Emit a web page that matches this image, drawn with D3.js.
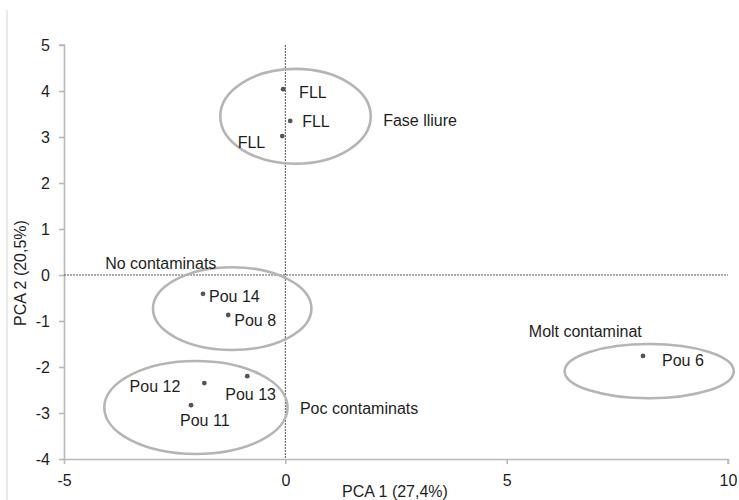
<!DOCTYPE html>
<html>
<head>
<meta charset="utf-8">
<script src="https://cdn.jsdelivr.net/npm/d3@7"></script>
<style>
  html, body { margin: 0; padding: 0; background: #fff; }
  svg text { font-family: "Liberation Sans", Arial, Helvetica, sans-serif; fill: #1e1e1e; }
</style>
</head>
<body>
<svg id="chart" width="739" height="500"></svg>
<script>
// ---- Data ----
const pointNames = ["FLL", "FLL", "FLL", "Pou 14", "Pou 8", "Pou 12", "Pou 13", "Pou 11", "Pou 6"];
const pca1 = [-0.05, 0.11, -0.07, -1.86, -1.29, -1.83, -0.86, -2.13, 8.08];
const pca2 = [4.04, 3.35, 3.02, -0.41, -0.87, -2.35, -2.20, -2.83, -1.76];

const groupNames = ["Fase lliure", "No contaminats", "Poc contaminats", "Molt contaminat"];
const groupCx = [0.23, -1.20, -2.02, 8.22];
const groupCy = [3.45, -0.73, -2.88, -2.09];
const groupRx = [1.70, 1.79, 2.07, 1.91];
const groupRy = [1.03, 0.90, 1.01, 0.59];
const groupLabelX = [2.21, -4.07, 0.33, 5.50];
const groupLabelY = [3.35, 0.26, -2.91, -1.22];

const xTicks = [-5, 0, 5, 10];
const yTicks = [-4, -3, -2, -1, 0, 1, 2, 3, 4, 5];
const xTitle = "PCA 1 (27,4%)";
const yTitle = "PCA 2 (20,5%)";

// ---- Layout (label offsets in px, anchors) ----
const labelOffsets = [
  {dx: 16, dy: 3, anchor: "start"},
  {dx: 12, dy: 1, anchor: "start"},
  {dx: -17, dy: 6, anchor: "end"},
  {dx: 6, dy: 3, anchor: "start"},
  {dx: 6, dy: 5, anchor: "start"},
  {dx: -24, dy: 3, anchor: "end"},
  {dx: -22, dy: 18, anchor: "start"},
  {dx: -11, dy: 15, anchor: "start"},
  {dx: 19, dy: 5, anchor: "start"}
];

const svg = d3.select("#chart");
const x = d3.scaleLinear().domain([-5, 10]).range([64, 728]);
const y = d3.scaleLinear().domain([-4, 5]).range([459, 45]);
const fontSize = 16;

// outer left border line
svg.append("line").attr("x1", 7).attr("x2", 7).attr("y1", 10).attr("y2", 500)
  .attr("stroke", "#d4d4d4").attr("stroke-width", 1);

// Axes
const axisColor = "#b9b9b9";
const yAxis = svg.append("g").attr("transform", `translate(${x(-5)},0)`)
  .call(d3.axisLeft(y).tickValues(yTicks).tickSize(5).tickPadding(9).tickFormat(d => String(d)));
const xAxis = svg.append("g").attr("transform", `translate(0,${y(-4)})`)
  .call(d3.axisBottom(x).tickValues(xTicks).tickSize(5).tickPadding(11).tickFormat(d => String(d)));
[xAxis, yAxis].forEach(a => {
  a.select(".domain").attr("stroke", axisColor).attr("stroke-width", 1.6);
  a.selectAll(".tick line").attr("stroke", axisColor).attr("stroke-width", 1.6);
  a.selectAll(".tick text").attr("font-size", fontSize).style("fill", "#1e1e1e")
    .attr("font-family", "Liberation Sans, Arial, sans-serif");
});
xAxis.select(".domain").attr("d", `M${x(-5)},0.5H${x(10)}V5`);
yAxis.select(".domain").attr("d", `M-5,${y(5)}H0.5V${y(-4)}`);

// Dotted zero lines
svg.append("line").attr("x1", x(0)).attr("x2", x(0)).attr("y1", y(5)).attr("y2", y(-4))
  .attr("stroke", "#555").attr("stroke-width", 1).attr("stroke-dasharray", "2,1");
svg.append("line").attr("x1", x(-5)).attr("x2", x(10)).attr("y1", y(0)).attr("y2", y(0))
  .attr("stroke", "#555").attr("stroke-width", 1).attr("stroke-dasharray", "2,1");

// Ellipses
svg.append("g").selectAll("ellipse").data(groupNames).join("ellipse")
  .attr("cx", (d, i) => x(groupCx[i]))
  .attr("cy", (d, i) => y(groupCy[i]))
  .attr("rx", (d, i) => x(groupRx[i]) - x(0))
  .attr("ry", (d, i) => y(0) - y(groupRy[i]))
  .attr("fill", "none").attr("stroke", "#b5b5b5").attr("stroke-width", 2.6);

// Group labels
svg.append("g").selectAll("text").data(groupNames).join("text")
  .attr("x", (d, i) => x(groupLabelX[i]))
  .attr("y", (d, i) => y(groupLabelY[i]))
  .attr("dominant-baseline", "central")
  .attr("font-size", fontSize)
  .text(d => d);

// Points
svg.append("g").selectAll("circle").data(pointNames).join("circle")
  .attr("cx", (d, i) => x(pca1[i]))
  .attr("cy", (d, i) => y(pca2[i]))
  .attr("r", 2.4).attr("fill", "#555");

// Point labels
svg.append("g").selectAll("text").data(pointNames).join("text")
  .attr("x", (d, i) => x(pca1[i]) + labelOffsets[i].dx)
  .attr("y", (d, i) => y(pca2[i]) + labelOffsets[i].dy)
  .attr("text-anchor", (d, i) => labelOffsets[i].anchor)
  .attr("dominant-baseline", "central")
  .attr("font-size", fontSize)
  .text(d => d);

// Axis titles
svg.append("text").attr("x", 395).attr("y", 491)
  .attr("text-anchor", "middle").attr("dominant-baseline", "central")
  .attr("font-size", fontSize).text(xTitle);
svg.append("text").attr("transform", "translate(20,273) rotate(-90)")
  .attr("text-anchor", "middle").attr("dominant-baseline", "central")
  .attr("font-size", fontSize).text(yTitle);
</script>
</body>
</html>
